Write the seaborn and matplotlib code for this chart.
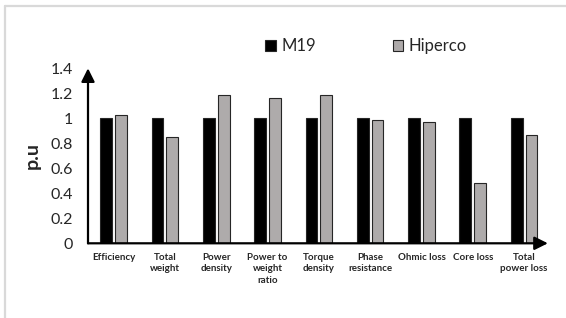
import matplotlib
matplotlib.use("Agg")
import matplotlib.pyplot as plt
from matplotlib.patches import Patch
from matplotlib.lines import Line2D
import seaborn as sns
import pandas as pd

categories = ["Efficiency", "Total\nweight", "Power\ndensity", "Power to\nweight\nratio",
              "Torque\ndensity", "Phase\nresistance", "Ohmic loss", "Core loss", "Total\npower loss"]
m19 = [1, 1, 1, 1, 1, 1, 1, 1, 1]
hiperco = [1.03, 0.85, 1.19, 1.16, 1.19, 0.99, 0.97, 0.48, 0.87]
series_names = ["M19", "Hiperco"]
yticks = [0, 0.2, 0.4, 0.6, 0.8, 1, 1.2, 1.4]
ytick_labels = ["0", "0.2", "0.4", "0.6", "0.8", "1", "1.2", "1.4"]

colors = ["#000000", "#aeaaaa"]

df = pd.DataFrame({
    "Parameter": categories * 2,
    "Value": m19 + hiperco,
    "Material": [series_names[0]] * len(categories) + [series_names[1]] * len(categories),
})

sns.set_style("white")
plt.rcParams["font.family"] = ["Lato", "DejaVu Sans"]

fig = plt.figure(figsize=(5.66, 3.18), dpi=100)
ax = fig.add_axes([88 / 566, 1 - 243.3 / 318, (549.7 - 88) / 566, 175 / 318])

sns.barplot(data=df, x="Parameter", y="Value", hue="Material", palette=colors,
            order=categories, hue_order=series_names,
            width=0.574, gap=0.2, edgecolor="#262626", linewidth=0.8,
            errorbar=None, legend=False, ax=ax)

ax.set_xlim(-0.5, len(categories) - 0.5)
ax.set_ylim(0, 1.4)
ax.set_yticks(yticks)
ax.set_yticklabels(ytick_labels, fontsize=11.5, color="#262626")
ax.set_xticks(range(len(categories)))
ax.set_xticklabels(categories, fontsize=7, fontweight="bold", color="#262626",
                   linespacing=1.35, va="top")
ax.tick_params(axis="y", length=0, pad=11)
ax.tick_params(axis="x", length=0, pad=7)
ax.set_xlabel("")
ax.set_ylabel("p.u", fontsize=14, fontweight="bold", labelpad=7)

for s in ax.spines.values():
    s.set_visible(False)

ax.annotate("", xy=(0, 1.0), xytext=(0, 0), xycoords="axes fraction",
            arrowprops=dict(arrowstyle="-|>", color="black", lw=1.6,
                            mutation_scale=20, shrinkA=0, shrinkB=0))
ax.annotate("", xy=(0.996, 0), xytext=(0, 0), xycoords="axes fraction",
            arrowprops=dict(arrowstyle="-|>", color="black", lw=1.6,
                            mutation_scale=20, shrinkA=0, shrinkB=0))

handles = [Patch(facecolor=colors[i], edgecolor="#262626", linewidth=0.8, label=series_names[i])
           for i in range(2)]
fig.legend(handles=handles, loc="center", bbox_to_anchor=(366 / 566, 1 - 46 / 318),
           ncol=2, frameon=False, fontsize=12, handlelength=0.65, handleheight=0.65,
           handletextpad=0.3, columnspacing=4.6)

fig.add_artist(Line2D([5 / 566, 1], [1 - 6 / 318, 1 - 6 / 318], color="#d9d9d9", lw=1.6))
fig.add_artist(Line2D([5 / 566, 5 / 566], [0, 1 - 6 / 318], color="#d9d9d9", lw=1.6))

fig.savefig("out.png", dpi=100)
